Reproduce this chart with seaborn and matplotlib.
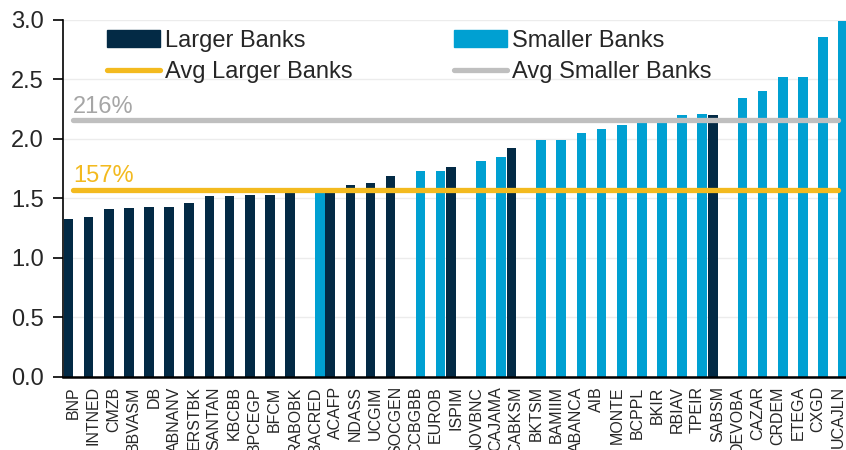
import numpy as np
import pandas as pd
import seaborn as sns
import matplotlib.pyplot as plt
from matplotlib.patches import Patch
from matplotlib.lines import Line2D

# bank tickers, sorted by ratio
banks = ['BNP', 'INTNED', 'CMZB', 'BBVASM', 'DB', 'ABNANV', 'ERSTBK', 'SANTAN',
         'KBCBB', 'BPCEGP', 'BFCM', 'RABOBK', 'BACRED', 'ACAFP', 'NDASS', 'UCGIM',
         'SOCGEN', 'CCBGBB', 'EUROB', 'ISPIM', 'NOVBNC', 'CAJAMA', 'CABKSM', 'BKTSM',
         'BAMIIM', 'ABANCA', 'AIB', 'MONTE', 'BCPPL', 'BKIR', 'RBIAV', 'TPEIR',
         'SABSM', 'DEVOBA', 'CAZAR', 'CRDEM', 'ETEGA', 'CXGD', 'UCAJLN']
ratio = [1.33, 1.34, 1.41, 1.42, 1.43, 1.43, 1.46, 1.52,
         1.52, 1.53, 1.53, 1.55, 1.56, 1.56, 1.61, 1.63,
         1.69, 1.73, 1.73, 1.76, 1.81, 1.85, 1.92, 1.99,
         1.99, 2.05, 2.08, 2.12, 2.13, 2.14, 2.20, 2.21,
         2.20, 2.34, 2.40, 2.52, 2.52, 2.86, 2.99]
# L = larger bank, S = smaller bank
size = ['L', 'L', 'L', 'L', 'L', 'L', 'L', 'L',
        'L', 'L', 'L', 'L', 'S', 'L', 'L', 'L',
        'L', 'S', 'S', 'L', 'S', 'S', 'L', 'S',
        'S', 'S', 'S', 'S', 'S', 'S', 'S', 'S',
        'L', 'S', 'S', 'S', 'S', 'S', 'S']
avg_larger = 1.57
avg_smaller = 2.16

dark = '#032a45'
light = '#00a0d2'
yellow = '#f3ba1f'
grey = '#bfbfbf'

df = pd.DataFrame({'bank': banks, 'ratio': ratio,
                   'group': ['Larger Banks' if s == 'L' else 'Smaller Banks' for s in size]})

sns.set_style('white')
plt.rcParams['font.family'] = ['Liberation Sans', 'DejaVu Sans']

fig = plt.figure(figsize=(8.46, 4.5), dpi=100)
ax = fig.add_axes([0.0748, 0.163, 0.928, 0.7927])

ax.yaxis.grid(True, color='#ececec', linewidth=1, zorder=0)
ax.set_axisbelow(True)

sns.barplot(data=df, x='bank', y='ratio', hue='group', order=banks,
            hue_order=['Larger Banks', 'Smaller Banks'], palette=[dark, light],
            width=0.96, saturation=1, dodge=True, legend=False, ax=ax, zorder=2,
            linewidth=0)

n = len(banks)
xs = np.arange(n)
ax.plot(xs, np.full(n, avg_smaller), color=grey, lw=3.8, solid_capstyle='round', zorder=3)
ax.plot(xs, np.full(n, avg_larger), color=yellow, lw=3.8, solid_capstyle='round', zorder=3)
ax.text(0, avg_larger + 0.065, f'{avg_larger:.0%}', color=yellow, fontsize=17, ha='left', va='baseline')
ax.text(0, avg_smaller + 0.06, f'{avg_smaller:.0%}', color='#a6a6a6', fontsize=17, ha='left', va='baseline')

ax.set_xlim(-0.5, n - 0.5)
ax.set_ylim(0, 3.0)
ax.set_yticks(np.arange(0, 3.01, 0.5))
ax.set_yticklabels([f'{v:.1f}' for v in np.arange(0, 3.01, 0.5)], fontsize=17)
ax.set_xticks(xs)
ax.set_xticklabels(banks, rotation=90, fontsize=11.5)
ax.set_xticks(np.arange(n + 1) - 0.5, minor=True)
ax.tick_params(axis='x', which='major', length=0, pad=7)
ax.tick_params(axis='x', which='minor', length=5, width=1.2, color='black', direction='out')
ax.tick_params(axis='y', length=7, width=1.2, color='black', direction='out', pad=7, left=True)
ax.set_xlabel('')
ax.set_ylabel('')

for s in ['top', 'right']:
    ax.spines[s].set_visible(False)
ax.spines['left'].set_color('black')
ax.spines['left'].set_linewidth(1.2)
ax.spines['bottom'].set_color('black')
ax.spines['bottom'].set_linewidth(1.8)

handles = [Patch(color=dark, label='Larger Banks'),
           Line2D([0], [0], color=yellow, lw=3.8, solid_capstyle='round', label='Avg Larger Banks'),
           Patch(color=light, label='Smaller Banks'),
           Line2D([0], [0], color=grey, lw=3.8, solid_capstyle='round', label='Avg Smaller Banks')]
fig.legend(handles=handles, ncol=2, loc='upper left', bbox_to_anchor=(107 / 846, 1 - 30 / 450),
           frameon=False, fontsize=17, handlelength=2.25, handletextpad=0.2,
           columnspacing=4.3, labelspacing=0.38, borderpad=0, borderaxespad=0)

fig.savefig('out.png', dpi=100)
